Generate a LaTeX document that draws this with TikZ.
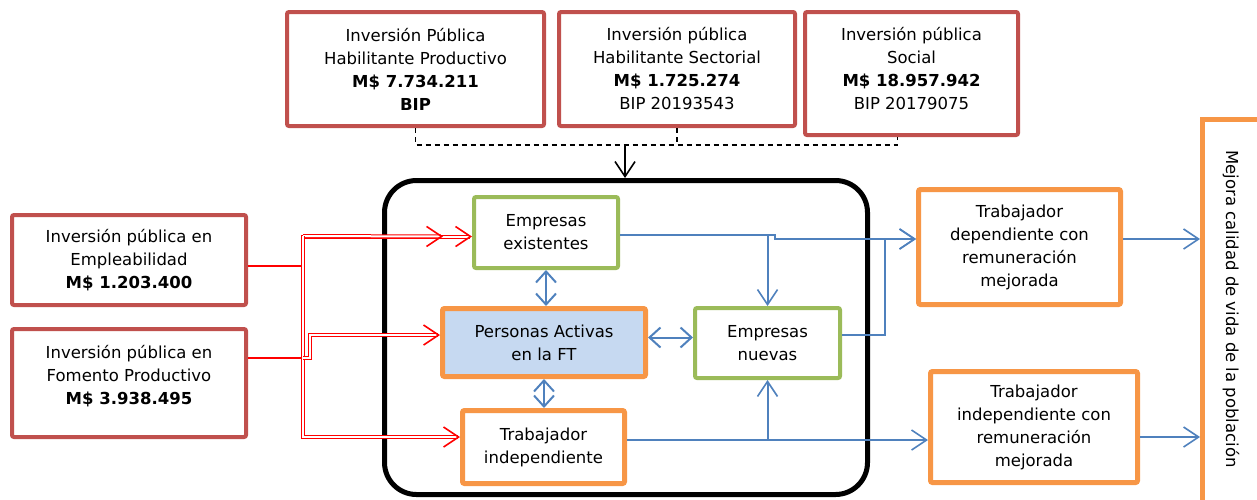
\documentclass[tikz,border=0pt]{standalone}
\usepackage{fontspec}
\setmainfont{DejaVu Sans}
\usetikzlibrary{arrows.meta}
\usetikzlibrary{positioning}

\definecolor{boxred}{HTML}{C0504D}
\definecolor{boxorange}{HTML}{F79646}
\definecolor{boxgreen}{HTML}{9BBB59}
\definecolor{linkblue}{HTML}{4F81BD}
\definecolor{paleblue}{HTML}{C6D9F1}
\definecolor{linkred}{HTML}{FF0000}

\begin{document}
\begin{tikzpicture}[x=0.5pt,y=-0.5pt,
    txt/.style={font=\fontsize{8.25}{11.5}\selectfont, align=center, inner sep=0pt},
    redbox/.style={txt, draw=boxred, line width=2pt, rounded corners=1pt, fill=white},
    orangebox/.style={txt, draw=boxorange, line width=2.5pt, rounded corners=1pt, fill=white},
    greenbox/.style={txt, draw=boxgreen, line width=2pt, rounded corners=1pt, fill=white},
    opentip/.style={-{Straight Barb[length=7.5pt,width=10pt,line width=0.8pt]}},
    redlink/.style={draw=linkred, line width=0.5pt, double=white, double distance=1pt, opentip},
    redstub/.style={draw=linkred, line width=0.8pt},
    bluelink/.style={draw=linkblue, line width=1pt, opentip},
    bluepair/.style={draw=linkblue, line width=1pt,
      {Straight Barb[length=5.5pt,width=10pt]}-{Straight Barb[length=5.5pt,width=10pt]}},
    dashlink/.style={draw=black, line width=0.75pt, dash pattern=on 2.5pt off 2pt},
    blacklink/.style={draw=black, line width=0.75pt, opentip}]
  \useasboundingbox (0,0) rectangle (1257,499);

  % box holding the actors
  \node[draw=black, line width=2.5pt, rounded corners=16pt,
        minimum width=241.5pt, minimum height=157pt] (core) at (626,337.5) {};

  % investment sources, top row
  \node[redbox, minimum width=128.5pt, minimum height=57pt] (habprod) at (415.5,69)
    {Inversión Pública\\Habilitante Productivo\\\textbf{M\$ 7.734.211}\\\textbf{BIP}};
  \node[redbox, minimum width=118pt, minimum height=57pt] (habsect) at (677,69)
    {Inversión pública\\Habilitante Sectorial\\\textbf{M\$ 1.725.274}\\BIP 20193543};
  \node[redbox, minimum width=106.5pt, minimum height=61.5pt] (social) at (911.5,73.5)
    {Inversión pública\\Social\\\textbf{M\$ 18.957.942}\\BIP 20179075\\[-6pt]};

  % investment sources, left column
  \node[redbox, minimum width=117pt, minimum height=45pt] (emplea) at (129,260)
    {Inversión pública en\\Empleabilidad\\\textbf{M\$ 1.203.400}};
  \node[redbox, minimum width=117pt, minimum height=54pt] (fomento) at (129,383)
    {Inversión pública en\\Fomento Productivo\\\textbf{M\$ 3.938.495}\\[-3.5pt]};

  % actors
  \node[greenbox, minimum width=72pt, minimum height=35.5pt] (existentes) at (546,232.5)
    {Empresas\\existentes};
  \node[orangebox, fill=paleblue, minimum width=101.5pt, minimum height=34pt] (personas) at (544,342.5)
    {Personas Activas\\en la FT};
  \node[greenbox, minimum width=72.5pt, minimum height=35pt] (nuevas) at (767.5,343)
    {Empresas\\nuevas};
  \node[orangebox, minimum width=81pt, minimum height=36.5pt] (independiente) at (543.5,447)
    {Trabajador\\independiente};

  % results
  \node[orangebox, minimum width=101pt, minimum height=57.5pt] (dependientemejor) at (1019.5,247)
    {Trabajador\\dependiente con\\remuneración\\mejorada};
  \node[orangebox, minimum width=103.5pt, minimum height=55.5pt] (independientemejor) at (1034,427)
    {Trabajador\\independiente con\\remuneración\\mejorada};
  \node[draw=boxorange, line width=2.5pt, minimum width=48.75pt, minimum height=210.25pt]
    (calidad) at (1251.25,329.75) {};
  \node[txt, rotate=-90] (calidadtxt) at (1231,309) {Mejora calidad de vida de la población};

  % dashed feed from the top row
  \coordinate (merge) at (625,145);
  \draw[dashlink] (habprod.south) |- (merge) -| ([xshift=-7pt]social.south);
  \draw[dashlink] (habsect.south) -- (habsect.south |- merge);
  \draw[blacklink] (merge) -- (merge |- core.north);

  % red feed from the left column
  \coordinate (bustop) at (303,236);
  \coordinate (busbot) at (303,437);
  \draw[redstub] ([yshift=-3pt]emplea.east) -- ([yshift=-3pt]emplea.east -| bustop);
  \draw[redstub] ([yshift=12.5pt]fomento.east) -- ([yshift=12.5pt]fomento.east -| bustop);
  \draw[redlink] (busbot) |- ([yshift=-2pt]existentes.west);
  \draw[redlink] (bustop) -- ([xshift=-14.5pt,yshift=-2pt]existentes.west);
  \draw[redlink] (bustop) |- ([yshift=5pt]independiente.west);
  \draw[redlink] ([yshift=12.5pt]fomento.east -| bustop) -- ++(7,0) |- ([yshift=3.75pt]personas.west);

  % blue links
  \draw[bluepair] (existentes.south) -- (existentes.south |- personas.north);
  \draw[bluepair] ([yshift=2.5pt]personas.east) -- ([yshift=2.5pt]personas.east -| nuevas.west);
  \draw[bluepair] (personas.south) -- (personas.south |- independiente.north);
  \draw[bluelink] ([yshift=-1.25pt]existentes.east) -- ++(155,0) |- ([yshift=4pt]dependientemejor.west);
  \draw[bluelink] ([yshift=-1.25pt]existentes.east -| nuevas.north) -- (nuevas.north);
  \draw[bluelink] ([yshift=4pt]nuevas.east) -- ++(43,0) |- ([yshift=4pt]dependientemejor.west);
  \draw[bluelink] ([yshift=3.5pt]independiente.east) -| (nuevas.south);
  \draw[bluelink] ([yshift=3.5pt]independiente.east) -- ([yshift=-6.5pt]independientemejor.west);
  \draw[bluelink] ([yshift=4pt]dependientemejor.east) -- ([yshift=4pt]dependientemejor.east -| calidad.west);
  \draw[bluelink] ([yshift=-5pt]independientemejor.east) -- ([yshift=-5pt]independientemejor.east -| calidad.west);
\end{tikzpicture}
\end{document}
